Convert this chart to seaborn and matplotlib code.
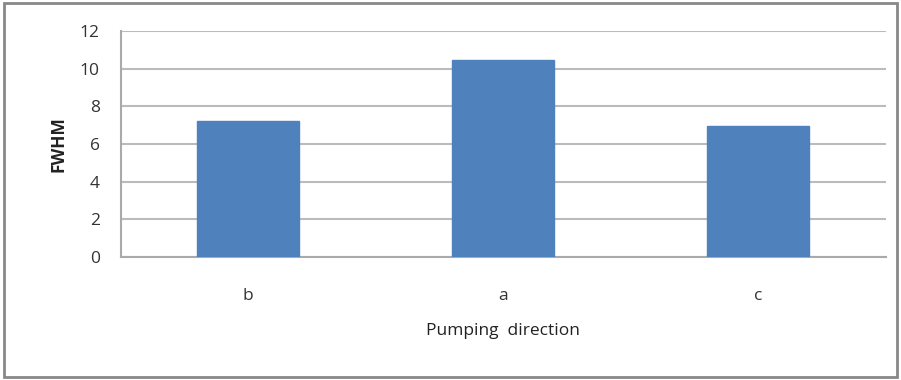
import matplotlib
matplotlib.use("Agg")
import matplotlib.pyplot as plt
import seaborn as sns
import pandas as pd
from matplotlib.patches import Rectangle

categories = ["b", "a", "c"]
fwhm = [7.22, 10.45, 6.95]
yticks = [0, 2, 4, 6, 8, 10, 12]

df = pd.DataFrame({"direction": categories, "fwhm": fwhm})

sns.set_style("white")
plt.rcParams["font.family"] = ["Open Sans", "DejaVu Sans"]

fig = plt.figure(figsize=(9.01, 3.8), dpi=100)
ax = fig.add_axes([0.134, 0.3237, 0.849, 0.5947])

sns.barplot(x="direction", y="fwhm", data=df, color="#4F81BD", width=0.4,
            saturation=1, ax=ax, zorder=3, edgecolor="#4F81BD")

ax.set_ylim(0, 12)
ax.set_xlim(-0.5, 2.5)
ax.set_yticks(yticks)
ax.set_yticklabels([str(t) for t in yticks], fontsize=12.5, color="#333333")
ax.yaxis.grid(True, color="#BBBBBB", linewidth=1.5, zorder=0)
ax.set_axisbelow(True)

# category boundary ticks like Excel
ax.set_xticks([-0.5, 0.5, 1.5, 2.5], minor=True)
ax.tick_params(axis="x", which="minor", length=5, width=1.5, color="#AAAAAA", direction="out")
ax.tick_params(axis="x", which="major", length=0, labelsize=12.5, labelcolor="#333333", pad=22)
ax.tick_params(axis="y", length=5, width=1.5, color="#AAAAAA", direction="out", pad=10)

for s in ["top", "right"]:
    ax.spines[s].set_visible(False)
ax.spines["left"].set_color("#AAAAAA")
ax.spines["left"].set_linewidth(1.5)
ax.spines["bottom"].set_color("#AAAAAA")
ax.spines["bottom"].set_linewidth(1.5)

ax.set_xlabel("Pumping  direction", fontsize=12.5, color="#222222", labelpad=14)
ax.set_ylabel("FWHM", fontsize=12.5, fontweight="bold", color="#222222", labelpad=9)

# outer chart border
fig.patches.append(Rectangle((0.004, 0.008), 0.992, 0.984, transform=fig.transFigure,
                             fill=False, edgecolor="#888888", linewidth=2))

fig.savefig("out.png", dpi=100)
